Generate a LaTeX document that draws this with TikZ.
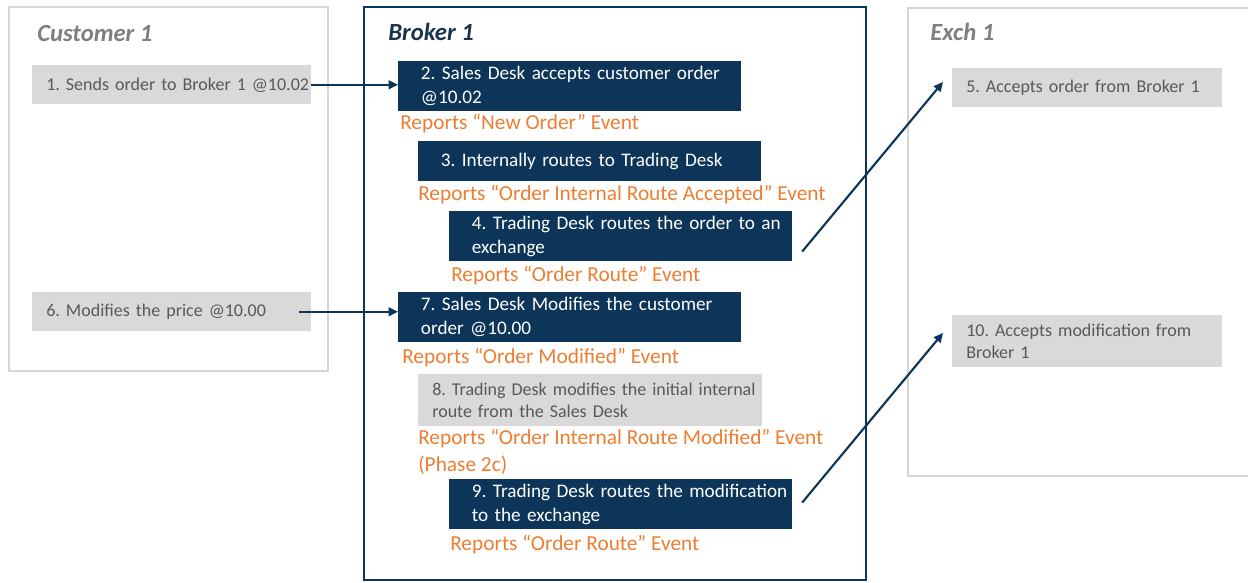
\documentclass[tikz,border=0pt]{standalone}
\usepackage{fontspec}
\setmainfont{Carlito}
\usetikzlibrary{arrows.meta,calc}
\definecolor{navy}{HTML}{0D3559}
\definecolor{boxgray}{HTML}{D9D9D9}
\definecolor{txtgray}{HTML}{595959}
\definecolor{framegray}{HTML}{D6D6D6}
\definecolor{orng}{HTML}{ED7D31}
\definecolor{titlegray}{HTML}{7F7F7F}
\definecolor{titlenavy}{HTML}{1A3350}
\begin{document}
\frenchspacing
\begin{tikzpicture}[x=0.75pt,y=-0.75pt,
  grayframe/.style={draw=framegray,line width=1.5pt},
  navyframe/.style={draw=navy,line width=1.5pt},
  paneltitle/.style={anchor=base west,inner sep=0pt,font=\fontsize{18.5}{22}\selectfont\bfseries\itshape},
  basebox/.style={anchor=north west,align=left,inner ysep=0pt},
  navybox/.style={basebox,fill=navy,text=white,inner xsep=17pt,text width=223pt,minimum height=37.5pt,font=\fontsize{14.4}{18}\selectfont},
  graybox/.style={basebox,fill=boxgray,text=txtgray,inner xsep=10.5pt,font=\fontsize{13.5}{16.5}\selectfont},
  report/.style={anchor=base west,inner sep=0pt,align=left,text=orng,font=\fontsize{16}{20.25}\selectfont},
  flow/.style={draw=navy,line width=1.6pt,-{Triangle[length=7pt,width=6.5pt]}}
]
\useasboundingbox (0,0) rectangle (1248,582);

% panels
\draw[grayframe] (9,7) rectangle (328,371);
\draw[navyframe] (364,7) rectangle (866,580);
\draw[grayframe] (908,8) rectangle (1262,476);

\node[paneltitle,text=titlegray] (tc) at (37,41) {Customer 1};
\node[paneltitle,text=titlenavy] (tb) at (388,40) {Broker 1};
\node[paneltitle,text=titlegray] (te) at (930,40) {Exch 1};

% customer
\node[graybox,text width=188pt,minimum height=29.25pt] (b1) at (32,65) {\mbox{1. Sends order to Broker 1 @10.02}};
\node[graybox,text width=188pt,minimum height=29.25pt] (b6) at (32,292) {\mbox{6. Modifies the price @10.00}};

% broker
\node[navybox] (b2) at (398,61) {\mbox{2. Sales Desk accepts customer order}\\@10.02};
\node[report] (r2) at (400,129) {Reports “New Order” Event};
\node[navybox,minimum height=30pt] (b3) at (418,141) {\mbox{3. Internally routes to Trading Desk}};
\node[report] (r3) at (418,200) {Reports “Order Internal Route Accepted” Event};
\node[navybox] (b4) at (449,211) {\mbox{4. Trading Desk routes the order to an}\\exchange};
\node[report] (r4) at (451,281) {Reports “Order Route” Event};
\node[navybox] (b7) at (398,292) {\mbox{7. Sales Desk Modifies the customer}\\order @10.00};
\node[report] (r7) at (402,363) {Reports “Order Modified” Event};
\node[graybox,text width=237pt,minimum height=39pt] (b8) at (418,374) {\mbox{8. Trading Desk modifies the initial internal}\\route from the Sales Desk};
\node[report] (r8) at (418,471) {Reports “Order Internal Route Modified” Event\\(Phase 2c)};
\node[navybox] (b9) at (449,479) {\mbox{9. Trading Desk routes the modification}\\to the exchange};
\node[report] (r9) at (450,550) {Reports “Order Route” Event};

% exchange
\node[graybox,text width=181.5pt,minimum height=29.25pt] (b5) at (952,68) {\mbox{5. Accepts order from Broker 1}};
\node[graybox,text width=181.5pt,minimum height=39pt] (b10) at (952,315) {\mbox{10. Accepts modification from}\\Broker 1};

% connectors
\coordinate (s4) at ($(b4.south east)+(10,-10)$);
\coordinate (e5) at ($(b5.north west)+(-9,14)$);
\coordinate (s9) at ($(b9.south east)+(10,-27)$);
\coordinate (e10) at ($(b10.north west)+(-9,18)$);
\coordinate (s6) at ($(b6.east)+(-12,0)$);
\draw[flow] (b1.east) -- (b1.east -| b2.west);
\draw[flow] (s6) -- (s6 -| b7.west);
\draw[flow] (s4) -- (e5);
\draw[flow] (s9) -- (e10);
\end{tikzpicture}
\end{document}
